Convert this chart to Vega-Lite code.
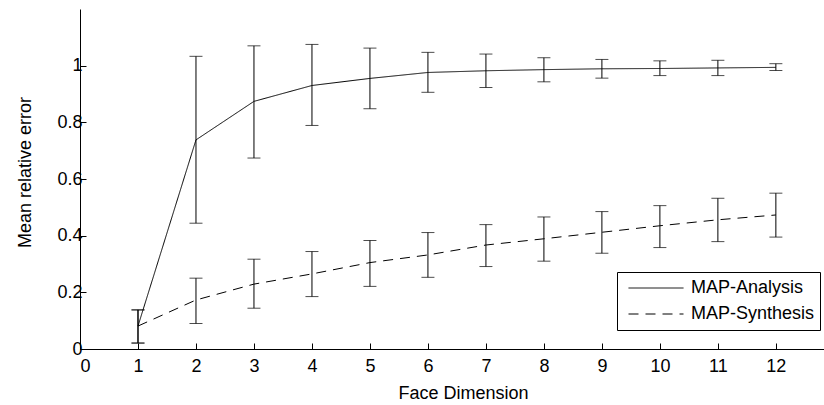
{
  "$schema": "https://vega.github.io/schema/vega-lite/v6.json",
  "autosize": {"type": "none"},
  "padding": {"left": 80, "top": 9, "right": 0, "bottom": 56},
  "width": 744,
  "height": 340,
  "background": "white",
  "config": {
    "view": {"stroke": null},
    "font": "Liberation Sans",
    "axis": {
      "domainColor": "black",
      "tickColor": "black",
      "labelColor": "black",
      "titleColor": "black",
      "labelFont": "Liberation Sans",
      "titleFont": "Liberation Sans",
      "labelFontSize": 18,
      "titleFontSize": 18,
      "titleFontWeight": "normal",
      "grid": false,
      "tickSize": -6,
      "domainWidth": 1,
      "tickWidth": 1
    }
  },
  "data": {
    "values": [
      {"dim": 1, "series": "MAP-Analysis", "mean": 0.081, "lo": 0.021, "hi": 0.138},
      {"dim": 2, "series": "MAP-Analysis", "mean": 0.738, "lo": 0.444, "hi": 1.033},
      {"dim": 3, "series": "MAP-Analysis", "mean": 0.874, "lo": 0.674, "hi": 1.07},
      {"dim": 4, "series": "MAP-Analysis", "mean": 0.93, "lo": 0.789, "hi": 1.075},
      {"dim": 5, "series": "MAP-Analysis", "mean": 0.955, "lo": 0.848, "hi": 1.062},
      {"dim": 6, "series": "MAP-Analysis", "mean": 0.976, "lo": 0.906, "hi": 1.047},
      {"dim": 7, "series": "MAP-Analysis", "mean": 0.982, "lo": 0.923, "hi": 1.041},
      {"dim": 8, "series": "MAP-Analysis", "mean": 0.986, "lo": 0.943, "hi": 1.028},
      {"dim": 9, "series": "MAP-Analysis", "mean": 0.989, "lo": 0.956, "hi": 1.022},
      {"dim": 10, "series": "MAP-Analysis", "mean": 0.99, "lo": 0.965, "hi": 1.017},
      {"dim": 11, "series": "MAP-Analysis", "mean": 0.992, "lo": 0.965, "hi": 1.019},
      {"dim": 12, "series": "MAP-Analysis", "mean": 0.994, "lo": 0.983, "hi": 1.007},
      {"dim": 1, "series": "MAP-Synthesis", "mean": 0.081, "lo": 0.021, "hi": 0.138},
      {"dim": 2, "series": "MAP-Synthesis", "mean": 0.173, "lo": 0.09, "hi": 0.25},
      {"dim": 3, "series": "MAP-Synthesis", "mean": 0.229, "lo": 0.144, "hi": 0.317},
      {"dim": 4, "series": "MAP-Synthesis", "mean": 0.265, "lo": 0.185, "hi": 0.344},
      {"dim": 5, "series": "MAP-Synthesis", "mean": 0.305, "lo": 0.221, "hi": 0.383},
      {"dim": 6, "series": "MAP-Synthesis", "mean": 0.332, "lo": 0.253, "hi": 0.411},
      {"dim": 7, "series": "MAP-Synthesis", "mean": 0.367, "lo": 0.291, "hi": 0.439},
      {"dim": 8, "series": "MAP-Synthesis", "mean": 0.389, "lo": 0.31, "hi": 0.466},
      {"dim": 9, "series": "MAP-Synthesis", "mean": 0.412, "lo": 0.338, "hi": 0.485},
      {"dim": 10, "series": "MAP-Synthesis", "mean": 0.435, "lo": 0.358, "hi": 0.506},
      {"dim": 11, "series": "MAP-Synthesis", "mean": 0.456, "lo": 0.379, "hi": 0.532},
      {"dim": 12, "series": "MAP-Synthesis", "mean": 0.473, "lo": 0.395, "hi": 0.55}
    ]
  },
  "encoding": {
    "x": {
      "field": "dim",
      "type": "quantitative",
      "scale": {"domain": [0, 12.83], "nice": false, "zero": false},
      "axis": {"values": [0,1,2,3,4,5,6,7,8,9,10,11,12], "title": "Face Dimension", "labelPadding": 14, "titlePadding": 9, "titleX": 383}
    }
  },
  "layer": [
    {
      "mark": {"type": "line", "color": "black", "strokeWidth": 1},
      "encoding": {
        "y": {
          "field": "mean",
          "type": "quantitative",
          "scale": {"domain": [0, 1.2], "nice": false},
          "axis": {"values": [0, 0.2, 0.4, 0.6, 0.8, 1], "format": "~g", "title": "Mean relative error", "labelPadding": 4, "titlePadding": 22, "titleY": 163}
        },
        "strokeDash": {
          "field": "series",
          "type": "nominal",
          "scale": {"domain": ["MAP-Analysis", "MAP-Synthesis"], "range": [[1, 0], [10, 7]]},
          "legend": {
            "title": null,
            "orient": "none",
            "legendX": 537,
            "legendY": 263,
            "fillColor": "white",
            "strokeColor": "black",
            "padding": 5,
            "symbolType": "stroke",
            "symbolSize": 3025,
            "symbolStrokeWidth": 1,
            "symbolStrokeColor": "black",
            "symbolOffset": 6,
            "clipHeight": 22,
            "labelFontSize": 18,
            "labelFont": "Liberation Sans",
            "labelColor": "black",
            "rowPadding": 4,
            "labelOffset": 7
          }
        }
      }
    },
    {
      "mark": {"type": "rule", "color": "black", "strokeWidth": 1},
      "encoding": {
        "y": {"field": "lo", "type": "quantitative"},
        "y2": {"field": "hi"}
      }
    },
    {
      "mark": {"type": "tick", "orient": "horizontal", "color": "black", "size": 13, "thickness": 1},
      "encoding": {"y": {"field": "lo", "type": "quantitative"}}
    },
    {
      "mark": {"type": "tick", "orient": "horizontal", "color": "black", "size": 13, "thickness": 1},
      "encoding": {"y": {"field": "hi", "type": "quantitative"}}
    }
  ]
}
